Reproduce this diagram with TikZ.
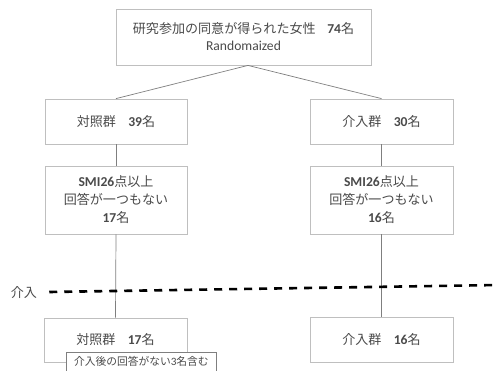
\documentclass[tikz,border=0pt]{standalone}
\usepackage{fontspec}
\setmainfont{Carlito}
\newfontfamily\cjk[Scale=0.96]{Noto Sans CJK JP}
\usetikzlibrary{calc}
\definecolor{txt}{HTML}{4A4A4A}
\definecolor{boxline}{HTML}{BFBFBF}
\definecolor{conn}{HTML}{7F7F7F}
\begin{document}
\begin{tikzpicture}[x=1pt,y=-1pt,
  box/.style={draw=boxline,line width=0.8pt,fill=white,rectangle,inner sep=0pt,
    align=center,text=txt,font=\fontsize{13.6}{18}\selectfont},
  callout/.style={draw=conn,line width=0.7pt,fill=white,rectangle,inner sep=0pt,
    text=txt,font=\fontsize{11.2}{12}\selectfont},
  conline/.style={draw=conn,line width=0.7pt},
  cut/.style={draw=black,line width=2.6pt,dash pattern=on 8pt off 7pt}]
\useasboundingbox (0,0) rectangle (498,370);
% boxes
\node[box,minimum width=255pt,minimum height=56pt] (top) at (243.5,37)
  {{\cjk 研究参加の同意が得られた女性}\hspace{0.85em}\textbf{74}{\cjk 名}\\[-1pt]Randomaized};
\node[box,minimum width=142pt,minimum height=45pt] (l1) at (116,121.5)
  {{\cjk 対照群}\hspace{0.9em}\textbf{39}{\cjk 名}};
\node[box,minimum width=143pt,minimum height=45pt] (r1) at (381.5,121.5)
  {{\cjk 介入群}\hspace{0.9em}\textbf{30}{\cjk 名}};
\node[box,minimum width=142pt,minimum height=68pt] (l2) at (116,200)
  {\textbf{SMI26}{\cjk 点以上}\\{\cjk 回答が一つもない}\\\textbf{17}{\cjk 名}};
\node[box,minimum width=143pt,minimum height=68pt] (r2) at (381.5,200)
  {\textbf{SMI26}{\cjk 点以上}\\{\cjk 回答が一つもない}\\\textbf{16}{\cjk 名}};
\node[box,minimum width=143pt,minimum height=44pt] (l3) at (115.5,340)
  {{\cjk 対照群}\hspace{0.9em}\textbf{17}{\cjk 名}};
\node[box,minimum width=143pt,minimum height=45pt] (r3) at (381.5,339.5)
  {{\cjk 介入群}\hspace{0.9em}\textbf{16}{\cjk 名}};
% connectors
\draw[conline] ($(top.south)+(4.5,0)$) -- (l1.north);
\draw[conline] ($(top.south)+(4.5,0)$) -- (r1.north);
\draw[conline] (l1.south) -- (l2.north);
\draw[conline] (r1.south) -- (r2.north);
\draw[conline] (l2.south) -- (l3.north);
\draw[conline] (r2.south) -- (r3.north);
% intervention line
\node[text=txt,font=\fontsize{13.6}{14}\cjk,inner sep=0pt] (kai) at (24,293) {介入};
\coordinate (cutend) at (498,285);
\draw[cut] ($(kai.east)+(12,-1)$) -- (cutend);
% callout
\node[callout,minimum width=150pt,minimum height=24pt,anchor=north west,
  text depth=0pt] (note) at (66,352)
  {\raisebox{6pt}{{\cjk 介入後の回答がない}3{\cjk 名含む}}};
\end{tikzpicture}
\end{document}
